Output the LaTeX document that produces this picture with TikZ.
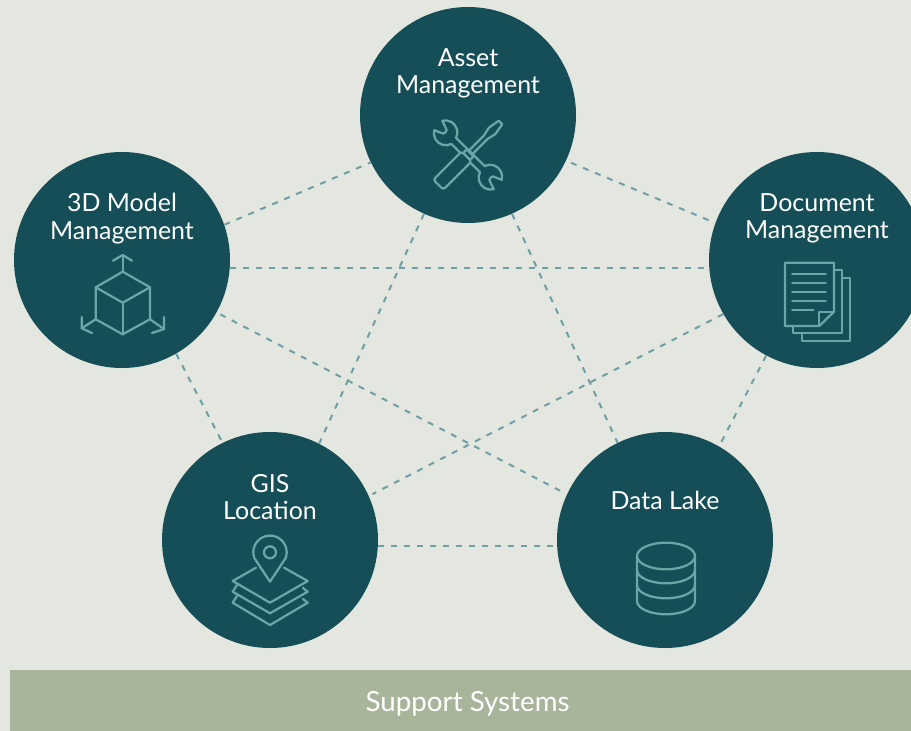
\documentclass[tikz,border=0pt]{standalone}
\usepackage{fontspec}
\setmainfont{Lato}
\definecolor{pagebg}{HTML}{E3E7E0}
\definecolor{discteal}{HTML}{154E56}
\definecolor{linkteal}{HTML}{6F9FA5}
\definecolor{iconteal}{HTML}{6BA5A8}
\definecolor{barsage}{HTML}{A9B59B}
\tikzset{
    disc/.style={circle,fill=discteal,minimum size=162pt,inner sep=0pt},
    disctext/.style={text=white,align=center,font=\fontsize{18.7}{20.5}\selectfont,inner sep=0pt},
    link/.style={draw=linkteal,line width=1.5pt,dash pattern=on 4.5pt off 5.25pt},
    icon/.style={draw=iconteal,line width=1.7pt,line join=round,line cap=round},
}

\begin{document}
\begin{tikzpicture}[x=0.75pt,y=-0.75pt]
        \useasboundingbox (0,0) rectangle (911,731);
        % 背景
        \fill[pagebg] (0,0) rectangle (911,731);
        % 五个圆
        \node[disc] (asset) at (468,115) {};
        \node[disc] (model) at (122,260) {};
        \node[disc] (document) at (817,260) {};
        \node[disc] (gis) at (270,540) {};
        \node[disc] (lake) at (665,540) {};
        % 圆之间的虚线
        \draw[link] (model.19) -- (asset.206);
        \draw[link] (model.-4) -- (document.184);
        \draw[link] (model.-60) -- (gis.116);
        \draw[link,shorten <=3pt,shorten >=1.5pt] (model.-29) -- (lake.155);
        \draw[link,shorten <=4pt,shorten >=2pt] (asset.-25) -- (document.160);
        \draw[link] (asset.-114) -- (gis.63);
        \draw[link] (asset.-66) -- (lake.116);
        \draw[link,shorten >=3pt] (document.210) -- (gis.24);
        \draw[link] (document.242) -- (lake.60);
        \draw[link] (gis.-3) -- (lake.183);
        % 圆内文字
        \node[disctext] (assettext) at (468,73.5) {Asset\\Management};
        \node[disctext] (modeltext) at (122,218.5) {3D Model\\Management};
        \node[disctext] (documenttext) at (817,218.5) {Document\\Management};
        \node[disctext] (gistext) at (270,497) {GIS\\Location};
        \node[disctext] (laketext) at (665,500) {Data Lake};
        % 底部横条
        \node[fill=barsage,minimum width=686.25pt,minimum height=45.75pt,inner sep=0pt] (support) at (467.5,700.5) {};
        \node[text=white,inner sep=0pt,font=\fontsize{20.8}{24}\selectfont] (supporttext) at (467.5,704) {Support Systems};
        % 工具图标
        \begin{scope}[shift={(468,155)}]
            \draw[icon,rotate=45] (1,-2.5) -- (25,-2.5) -- (34,-4.5) -- (46,-2.5) -- (46,2.5) -- (34,4.5) -- (25,2.5) -- (1,2.5);
            \draw[icon,fill=discteal,rotate=-45] (19.6,-4) arc (198:330:12) -- (35,-3.5)
                .. controls (31,-3.5) and (31,3.5) .. (35,3.5) -- (42.4,6) arc (30:162:12)
                -- (-19.6,4) arc (18:150:12) -- (-35,3.5)
                .. controls (-31,3.5) and (-31,-3.5) .. (-35,-3.5) -- (-42.4,-6) arc (210:342:12) -- cycle;
            \draw[icon,fill=discteal,rotate=45,rounded corners=2pt] (-42,-7) rectangle (-2,7);
            \draw[icon,fill=discteal,rotate=45,rounded corners=1.5pt] (-2,-5) rectangle (3,5);
        \end{scope}
        % 立方体图标
        \draw[icon] (122.7,271.7) -- (150,287.3) -- (150,319.3) -- (122.7,334.3) -- (95.7,319.3) -- (95.7,287.3) -- cycle;
        \draw[icon] (95.7,287.3) -- (122.7,302.7) -- (150,287.3);
        \draw[icon] (122.7,302.7) -- (122.7,334.3);
        \draw[icon] (122.7,271.7) -- (122.7,255);
        \draw[icon] (113,260.7) -- (122.7,255) -- (132,260.7);
        \draw[icon] (95.7,319.3) -- (81.7,328.3);
        \draw[icon] (81.7,317) -- (81.7,328.3) -- (92,333);
        \draw[icon] (150,319.3) -- (164,329);
        \draw[icon] (164,317) -- (164,329) -- (152,333);
        % 文件图标
        \draw[icon] (785,262.7) -- (834,262.7) -- (834,311.7) -- (819.3,326) -- (785,326) -- cycle;
        \draw[icon] (819.3,326) -- (819.3,311.7) -- (834,311.7);
        \draw[icon] (834,270) -- (842.3,270) -- (842.3,333.3) -- (793.3,333.3) -- (793.3,326);
        \draw[icon] (842.3,278.3) -- (850,278.3) -- (850,340.7) -- (801.7,340.7) -- (801.7,333.3);
        \foreach \y in {273.7,282.7,292,301} {
            \draw[icon] (792.3,\y) -- (825.7,\y);
        }
        \draw[icon] (792.3,310.3) -- (813.3,310.3);
        % 定位图标
        \draw[icon] (256,567.7) -- (232.7,581) -- (270,602.7) -- (307.7,581) -- (284,567.7);
        \draw[icon] (237,585) -- (232.7,591.7) -- (270,613.3) -- (307.7,591.7) -- (303,588);
        \draw[icon] (237,596) -- (232.7,602.7) -- (270,625) -- (307.7,602.7) -- (303,599);
        \draw[icon] (270,581.7) -- (254.3,558) arc (160:380:16.7) -- cycle;
        \draw[icon] (270,552.3) circle (6);
        % 数据库图标
        \draw[icon] (666,556) ellipse (29 and 13.3);
        \draw[icon] (637,556) -- (637,601) arc (180:0:29 and 13.3) -- (695,556);
        \draw[icon] (637,570) arc (180:0:29 and 13.3);
        \draw[icon] (637,585) arc (180:0:29 and 13.3);
    \end{tikzpicture}
\end{document}
